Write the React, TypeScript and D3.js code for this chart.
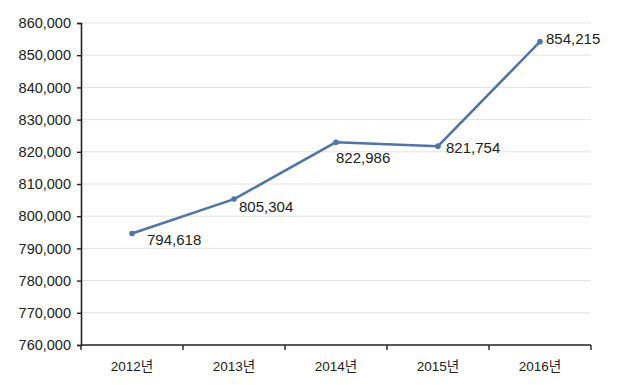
import React, {useEffect, useRef} from 'react'
import * as d3 from 'd3';

const years = ['2012년', '2013년', '2014년', '2015년', '2016년'];
const values = [794618, 805304, 822986, 821754, 854215];
const yTicks = [760000, 770000, 780000, 790000, 800000, 810000, 820000, 830000, 840000, 850000, 860000];
// label offsets (dx, dy) from each point, as placed in the original
const labelOffsets = [[15, 11], [5, 13], [0, 21], [8, 7], [6, 2]];

export default function App(){
    const svgRef = useRef(null);

    const W = 620, H = 385;
    const margin = {top: 23, right: 29, left: 81, bottom: 40};
    const font = '"Liberation Sans", Arial, "Noto Sans CJK KR", sans-serif';

    useEffect(() => {
        const svg = d3.select(svgRef.current);
        svg.selectAll('*').remove();

        const x = d3.scaleBand()
            .domain(years)
            .range([margin.left, W - margin.right])
            .padding(0);

        const y = d3.scaleLinear()
            .domain([760000, 860000])
            .range([H - margin.bottom, margin.top]);

        // gridlines
        svg.append('g')
            .selectAll('line')
            .data(yTicks.slice(1))
            .join('line')
            .attr('x1', margin.left)
            .attr('x2', W - margin.right)
            .attr('y1', d => y(d))
            .attr('y2', d => y(d))
            .attr('stroke', '#e3e3e3')
            .attr('stroke-width', 1);

        // y axis
        const yaxis = d3.axisLeft(y)
            .tickValues(yTicks)
            .tickSize(4)
            .tickPadding(6)
            .tickFormat(d3.format(','));
        const gy = svg.append('g')
            .attr('transform', `translate(${margin.left},0)`)
            .call(yaxis);
        gy.select('.domain').attr('stroke', '#222').attr('stroke-width', 1.6);
        gy.selectAll('.tick line').attr('stroke', '#222').attr('stroke-width', 1.4);
        gy.selectAll('.tick text')
            .attr('fill', '#222')
            .attr('font-size', '14.5px')
            .attr('font-family', font);

        // x axis: ticks on band boundaries
        const gx = svg.append('g')
            .attr('transform', `translate(0,${H - margin.bottom})`);
        gx.append('line')
            .attr('x1', margin.left)
            .attr('x2', W - margin.right)
            .attr('stroke', '#222')
            .attr('stroke-width', 1.6);
        const bounds = [...years.map(d => x(d)), x(years[years.length - 1]) + x.bandwidth()];
        gx.selectAll('line.tk')
            .data(bounds)
            .join('line')
            .attr('class', 'tk')
            .attr('x1', d => d)
            .attr('x2', d => d)
            .attr('y1', 0)
            .attr('y2', 5)
            .attr('stroke', '#222')
            .attr('stroke-width', 1.4);
        gx.selectAll('text')
            .data(years)
            .join('text')
            .attr('x', d => x(d) + x.bandwidth() / 2)
            .attr('y', 26)
            .attr('text-anchor', 'middle')
            .attr('font-size', '13.5px')
            .attr('font-family', font)
            .attr('fill', '#222')
            .text(d => d);

        const pts = years.map((d, i) => ({year: d, value: values[i], off: labelOffsets[i]}));
        const cx = d => x(d.year) + x.bandwidth() / 2;

        const line = d3.line()
            .x(cx)
            .y(d => y(d.value));

        svg.append('path')
            .datum(pts)
            .attr('d', line)
            .attr('fill', 'none')
            .attr('stroke', '#4f74a8')
            .attr('stroke-width', 2.5)
            .attr('stroke-linejoin', 'round');

        svg.append('g')
            .selectAll('circle')
            .data(pts)
            .join('circle')
            .attr('cx', cx)
            .attr('cy', d => y(d.value))
            .attr('r', 2.8)
            .attr('fill', '#4f74a8');

        svg.append('g')
            .selectAll('text')
            .data(pts)
            .join('text')
            .attr('x', d => cx(d) + d.off[0])
            .attr('y', d => y(d.value) + d.off[1])
            .attr('font-size', '15px')
            .attr('font-family', font)
            .attr('fill', '#222')
            .text(d => d3.format(',')(d.value));
    });

    return (
        <svg
            ref={svgRef}
            width={W}
            height={H}
            style={{position: 'absolute', left: 0, top: 0, background: '#fff'}}
        >
        </svg>
    );
}
